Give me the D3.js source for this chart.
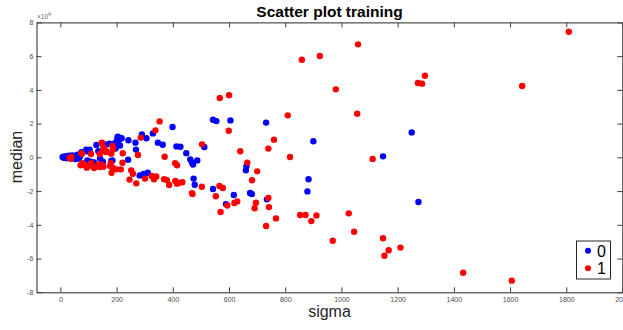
<!DOCTYPE html>
<html>
<head>
<meta charset="utf-8">
<script src="https://cdn.jsdelivr.net/npm/d3@7"></script>
<style>
  body { margin: 0; background: #fff; }
  svg { display: block; font-family: "Liberation Sans", Arial, Helvetica, sans-serif; }
</style>
</head>
<body>
<svg width="623" height="330"></svg>
<script>
// class 0 (blue) : sigma / median pairs
var sigma0 = [8, 12, 15, 20, 22, 25, 28, 32, 35, 38, 42, 45, 48, 52, 55, 58, 60, 63, 66, 70,
  75, 78, 92, 95, 98, 104, 96, 108, 120, 141, 151, 128, 135, 154, 166, 175,
  191, 196, 203, 209, 218, 200, 212, 205, 185, 181, 242, 241, 267, 269, 290, 306,
  282, 296, 311, 329, 347, 364, 399, 413, 427, 448, 462, 487, 468, 472, 474, 478,
  512, 543, 555, 605, 543, 589, 617, 660, 662, 675, 681, 732, 735, 883, 879, 900,
  1148, 1250, 1274];
var median0 = [200, -300, 500, 0, -600, 800, 300, 1000, -200, 600, 1200, -500, 400, 900, -1000, 200, 1400, 1600, -700, 500,
  3100, 2800, 4500, 3600, 4100, 4600, -1800, -2600, -3000, -600, -2600, 7300, 3600, 5900, 7700, 8100,
  8100, 5300, 12000, 10500, 11300, 9500, 7000, 12300, -1800, -2200, 10100, -1400, 8700, 4600, 13600, 11300,
  -10700, -9900, -9100, 14200, 8700, 7500, 18000, 6500, 6300, 2500, -1200, -1800, -3000, -4200, -12600, -16200,
  6100, 22300, 21500, 21900, -18800, -27700, -22300, -7700, -5300, -21100, -21700, 20600, -24900, -13000, -20200, 9500,
  600, 14800, -26500];

// class 1 (red)
var sigma1 = [33, 36, 39, 37, 76, 75, 109, 140, 152, 162, 147, 154, 148, 164, 181, 185, 187, 222,
  78, 72, 79, 90, 94, 109, 114, 120, 135, 147, 153, 140, 179, 177, 182, 187, 200, 215, 221,
  246, 252, 258, 270, 276, 286, 301, 325, 333, 341, 338, 353, 371,
  369, 379, 387, 409, 415, 421, 434, 408, 415,
  468, 470, 503, 504, 553, 566, 578, 570, 567, 600, 599, 619, 629, 594,
  640, 665, 682, 700, 696, 691, 740, 742, 767, 732, 740, 760, 809, 817,
  853, 872, 893, 911, 859, 923, 980, 969, 1026, 1045, 1056, 1059, 1111,
  1148, 1153, 1168, 1210, 1272, 1287, 1297, 1433, 1606, 1643, 1809];
var median1 = [-400, 0, 200, -800, 2200, 2500, 2000, 2000, 4200, 3100, 8500, 5900, 8700, 3700, 2200, 6700, 4700, 2400,
  -3400, -4700, -4200, -4700, -6100, -3400, -5200, -6300, -4200, -4300, -5500, -5700, -3400, -5200, -9100, -6300, -7100, -7100, -3200,
  -13200, -7700, -9700, -15400, 1400, 11700, -12600, -11100, -13000, -11300, 16000, 21300, 400,
  -13000, -13500, -16400, -14000, -15600, -15000, -14800, -3400, -4700,
  -21200, -21800, -17400, 7700, -23100, -17000, -18200, -32400, 35200, 36800, 15800, -27100, -26100, -28500,
  3600, -3100, -13600, -8300, -26900, -30200, -24100, -29500, -36200, -40700, 5200, 10500, 24900, 200,
  -34200, -34200, -37800, -34400, 57900, 60100, 40300, -49400, -33200, -44100, 25900, 67000, -1000,
  -48000, -58300, -55100, -53500, 44100, 43700, 48400, -68400, -73100, 42300, 74500];

var xTicks = [0, 200, 400, 600, 800, 1000, 1200, 1400, 1600, 1800, 2000];
var yTicks = [-8, -6, -4, -2, 0, 2, 4, 6, 8];
var classes = ["0", "1"];
var colors = ["#0000ff", "#ff0000"];

var svg = d3.select("svg");

var x = d3.scaleLinear().domain([-85, 2000]).range([36.5, 622.5]);
var y = d3.scaleLinear().domain([-8e4, 8e4]).range([292.3, 22.4]);

// axes, ticks point inward like matlab
function styleAxis(g) {
  g.select(".domain").attr("stroke", "#262626").attr("stroke-width", 1);
  g.selectAll(".tick line").attr("stroke", "#404040");
  g.selectAll(".tick text").attr("fill", "#4d4d4d").style("font-size", "7px");
}

svg.append("g")
  .attr("transform", "translate(0,292.3)")
  .call(d3.axisBottom(x).tickValues(xTicks).tickSizeInner(-5).tickSizeOuter(0).tickPadding(5)
    .tickFormat(d3.format("d")))
  .call(styleAxis);

svg.append("g")
  .attr("transform", "translate(0,22.4)")
  .call(d3.axisTop(x).tickValues(xTicks).tickSizeInner(-5).tickSizeOuter(0).tickFormat(""))
  .call(styleAxis);

svg.append("g")
  .attr("transform", "translate(36.5,0)")
  .call(d3.axisLeft(y).tickValues(yTicks.map(function(d) { return d * 1e4; }))
    .tickSizeInner(-5).tickSizeOuter(0).tickPadding(3)
    .tickFormat(function(d) { return d / 1e4; }))
  .call(styleAxis);

svg.append("g")
  .attr("transform", "translate(622.3,0)")
  .call(d3.axisRight(y).tickValues(yTicks.map(function(d) { return d * 1e4; }))
    .tickSizeInner(-5).tickSizeOuter(0).tickFormat(""))
  .call(styleAxis);

// exponent label
var expo = svg.append("text")
  .attr("x", 37)
  .attr("y", 19)
  .attr("fill", "#666")
  .style("font-size", "6.5px");
expo.append("tspan").text("\u00d710");
expo.append("tspan").attr("dy", -3).style("font-size", "5px").text("4");

// points
var pts0 = sigma0.map(function(s, i) { return {s: s, m: median0[i]}; });
var pts1 = sigma1.map(function(s, i) { return {s: s, m: median1[i]}; });

svg.append("g").selectAll("circle")
  .data(pts0)
  .enter().append("circle")
  .attr("cx", function(d) { return x(d.s); })
  .attr("cy", function(d) { return y(d.m); })
  .attr("r", 3.2)
  .attr("fill", colors[0]);

svg.append("g").selectAll("circle")
  .data(pts1)
  .enter().append("circle")
  .attr("cx", function(d) { return x(d.s); })
  .attr("cy", function(d) { return y(d.m); })
  .attr("r", 3.2)
  .attr("fill", colors[1]);

// title and labels
svg.append("text")
  .attr("x", 329.5).attr("y", 16.5)
  .attr("text-anchor", "middle")
  .style("font-size", "15.5px").style("font-weight", "bold")
  .attr("fill", "#000")
  .text("Scatter plot training");

svg.append("text")
  .attr("x", 329.5).attr("y", 316.5)
  .attr("text-anchor", "middle")
  .style("font-size", "16px")
  .attr("fill", "#262626")
  .text("sigma");

svg.append("text")
  .attr("transform", "translate(21.5,157) rotate(-90)")
  .attr("text-anchor", "middle")
  .style("font-size", "16px")
  .attr("fill", "#262626")
  .text("median");

// legend
var legend = svg.append("g");
legend.append("rect")
  .attr("x", 576.5).attr("y", 241)
  .attr("width", 34).attr("height", 38)
  .attr("fill", "#fff").attr("stroke", "#262626").attr("stroke-width", 1);

var items = legend.selectAll("g.item")
  .data(classes)
  .enter().append("g")
  .attr("class", "item")
  .attr("transform", function(d, i) { return "translate(588," + (250.7 + i * 17.6) + ")"; });

items.append("circle").attr("r", 3).attr("fill", function(d, i) { return colors[i]; });
items.append("text")
  .attr("x", 9).attr("y", 5.8)
  .style("font-size", "16px")
  .attr("fill", "#000")
  .text(function(d) { return d; });
</script>
</body>
</html>
